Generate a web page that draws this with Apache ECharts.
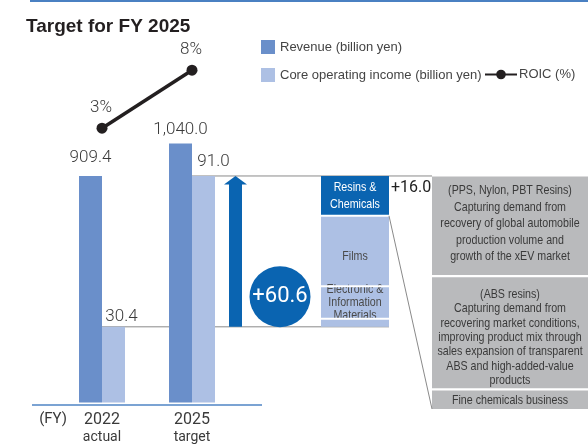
<!DOCTYPE html>
<html>
<head>
<meta charset="utf-8">
<script src="https://cdn.jsdelivr.net/npm/echarts@6/dist/echarts.min.js"></script>
<style>
  html, body { margin: 0; padding: 0; background: #fff; }
  #chart { width: 588px; height: 444px; }
</style>
</head>
<body>
<div id="chart"></div>
<script>
// Fiscal years and their plan status
const categories = ['2022', '2025'];
const categoryNotes = ['actual', 'target'];

// Revenue and core operating income (billion yen), ROIC (%)
const revenue = [909.4, 1040.0];
const coreIncome = [30.4, 91.0];
const roic = [3, 8];

// Breakdown of the core operating income increase (billion yen), top to bottom
const segmentNames = ['Resins &\nChemicals', 'Films', 'Electronic &\nInformation\nMaterials', ''];
const segmentGains = [16.0, 28.3, 13.1, 3.2];

// Notes on the Resins & Chemicals segment
const resinNotes = [
  '(PPS, Nylon, PBT Resins)\nCapturing demand from\nrecovery of global automobile\nproduction volume and\ngrowth of the xEV market',
  '(ABS resins)\nCapturing demand from\nrecovering market conditions,\nimproving product mix through\nsales expansion of transparent\nABS and high-added-value\nproducts',
  'Fine chemicals business'
];

const SANS = "'Liberation Sans', Arial, sans-serif";
const NUM = "Roboto, 'Liberation Sans', sans-serif";
const NARROW_SCALE = 0.82;   // condensed look for the annotation text
const REV_COLOR = '#6a8fca';
const CORE_COLOR = '#adc0e4';
const DEEP_BLUE = '#0a64b1';
const TEXT = '#3a3a3a';

const fmt1 = v => v.toLocaleString('en-US', { minimumFractionDigits: 1, maximumFractionDigits: 1 });

// per-label placement tweaks
const revLabelDist = [10, 5];
const coreLabelDist = [2, 6];
const coreLabelShift = [8, 10];
const segmentLabelShift = [0, 5, 0, 0];
const segmentLineHeight = [17, 13, 13, 13];

const chart = echarts.init(document.getElementById('chart'), null, { renderer: 'canvas' });

function narrowText(x, y, text, extra) {
  return {
    type: 'text', x: x, y: y, scaleX: NARROW_SCALE,
    style: Object.assign({ text: text, x: 0, y: 0, fontFamily: SANS, fontSize: 13, fill: TEXT,
      align: 'center', verticalAlign: 'middle' }, extra || {})
  };
}

function renderBreakdown(params, api) {
  const cx = api.coord([1, 0])[0];
  const cxPrev = api.coord([0, 0])[0];
  const yOf = v => api.coord([1, v])[1];
  const base = coreIncome[0];
  const top = coreIncome[1];
  const delta = top - base;
  const yTop = yOf(top);
  const yBase = yOf(base);
  const boxL = cx + 129, boxR = cx + 197;
  const panelL = cx + 240;
  const children = [];

  // reference lines at the two core income levels
  children.push({ type: 'line', shape: { x1: cx, y1: yTop, x2: panelL, y2: yTop },
    style: { stroke: '#8a8a8a', lineWidth: 1 } });
  children.push({ type: 'line', shape: { x1: cxPrev, y1: yBase, x2: boxR, y2: yBase },
    style: { stroke: '#8a8a8a', lineWidth: 1 } });

  // upward arrow spanning the increase
  const ax = cx + 43.5;
  children.push({ type: 'rect', shape: { x: ax - 6.5, y: yTop + 8, width: 13, height: yBase - yTop - 8 },
    style: { fill: DEEP_BLUE } });
  children.push({ type: 'polygon', shape: { points: [[ax - 11.5, yTop + 8.5], [ax + 11.5, yTop + 8.5], [ax, yTop]] },
    style: { fill: DEEP_BLUE } });

  // total increase badge
  const badgeY = yOf(base + delta * 0.2);
  children.push({ type: 'circle', shape: { cx: cx + 88, cy: badgeY, r: 30.5 }, style: { fill: DEEP_BLUE } });
  children.push({ type: 'text', x: cx + 88, y: badgeY,
    style: { text: '+' + fmt1(delta), fill: '#fff', fontSize: 22, fontFamily: NUM,
      align: 'center', verticalAlign: 'middle' } });

  // stacked breakdown box: blocks, then names, then white separators
  const blocks = [], names = [], seps = [];
  let acc = top;
  segmentGains.forEach((g, i) => {
    const y0 = yOf(acc), y1 = yOf(acc - g);
    blocks.push({ type: 'rect', shape: { x: boxL, y: y0, width: boxR - boxL, height: y1 - y0 },
      style: { fill: i === 0 ? DEEP_BLUE : CORE_COLOR } });
    if (i > 0) {
      seps.push({ type: 'line', shape: { x1: boxL, y1: y0, x2: boxR, y2: y0 },
        style: { stroke: '#fff', lineWidth: 2 } });
    }
    if (segmentNames[i]) {
      names.push(narrowText((boxL + boxR) / 2, (y0 + y1) / 2 + segmentLabelShift[i], segmentNames[i], {
        fill: i === 0 ? '#fff' : '#4a4a4a', fontSize: 13, lineHeight: segmentLineHeight[i]
      }));
    }
    acc -= g;
  });
  children.push(...blocks, ...names, ...seps);

  // gain of the first segment
  children.push({ type: 'text', x: boxR + 2, y: yTop + 12,
    style: { text: '+' + fmt1(segmentGains[0]), fill: '#222', fontSize: 16, fontFamily: NUM,
      align: 'left', verticalAlign: 'middle' } });

  // connector from the first segment to the notes
  children.push({ type: 'line', shape: { x1: boxR, y1: yOf(top - segmentGains[0]), x2: panelL, y2: 409 },
    style: { stroke: '#8a8a8a', lineWidth: 1 } });

  return { type: 'group', children };
}

const option = {
  animation: false,
  backgroundColor: '#fff',
  title: {
    text: 'Target for FY 2025',
    left: 26, top: 17, padding: 0,
    textStyle: { fontFamily: SANS, fontSize: 19, fontWeight: 'bold', color: '#231f20' }
  },
  legend: [
    {
      data: ['Revenue (billion yen)', 'Core operating income (billion yen)'],
      orient: 'vertical', left: 261, top: 40, padding: 0,
      itemWidth: 14, itemHeight: 14, itemGap: 14,
      icon: 'rect',
      textStyle: { fontFamily: SANS, fontSize: 13, color: '#444' }
    },
    {
      data: ['ROIC (%)'],
      left: 484, top: 68, padding: 0,
      itemWidth: 32, itemHeight: 12,
      textStyle: { fontFamily: SANS, fontSize: 13, color: '#444', padding: [0, 0, 0, -3] }
    }
  ],
  grid: [
    { left: 57, width: 180, top: 54, bottom: 39 },
    { left: 57, width: 180, top: 47, height: 116 }
  ],
  xAxis: [
    {
      type: 'category', gridIndex: 0, data: categories,
      axisLine: { show: false }, axisTick: { show: false },
      name: '(FY)', nameLocation: 'start', nameGap: -10,
      nameTextStyle: { fontFamily: NUM, fontSize: 15, color: TEXT, align: 'right',
        verticalAlign: 'top', padding: [9, 0, 0, 0] },
      axisLabel: {
        margin: 9, interval: 0,
        formatter: (v, i) => '{y|' + v + '}\n{n|' + categoryNotes[i] + '}',
        rich: {
          y: { fontFamily: NUM, fontSize: 16, color: TEXT, lineHeight: 17 },
          n: { fontFamily: NUM, fontSize: 14, color: TEXT, lineHeight: 17 }
        }
      }
    },
    { type: 'category', gridIndex: 1, data: categories, show: false }
  ],
  yAxis: [
    { type: 'value', gridIndex: 0, min: 0, max: 1400, show: false },
    { type: 'value', gridIndex: 0, min: 0, max: 140, show: false },
    { type: 'value', gridIndex: 1, min: 0, max: 10, show: false }
  ],
  graphic: {
    elements: [
      { type: 'line', shape: { x1: 30, y1: 1, x2: 588, y2: 1 }, style: { stroke: '#4a80c2', lineWidth: 2 } },
      { type: 'line', shape: { x1: 32, y1: 405, x2: 262, y2: 405 }, style: { stroke: '#4f84c4', lineWidth: 1.5 }, z: 10 },
      { type: 'rect', shape: { x: 432, y: 176.5, width: 156, height: 98.5 }, style: { fill: '#b9babc' } },
      { type: 'rect', shape: { x: 432, y: 277.3, width: 156, height: 111 }, style: { fill: '#b9babc' } },
      { type: 'rect', shape: { x: 432, y: 390.6, width: 156, height: 18.4 }, style: { fill: '#b9babc' } },
      narrowText(510, 182.5, resinNotes[0], { verticalAlign: 'top', lineHeight: 16.5 }),
      narrowText(510, 287, resinNotes[1], { verticalAlign: 'top', lineHeight: 14.4 }),
      narrowText(510, 400, resinNotes[2], {})
    ]
  },
  series: [
    {
      name: 'Revenue (billion yen)', type: 'bar',
      xAxisIndex: 0, yAxisIndex: 0,
      barWidth: 23, barGap: '0%', z: 3,
      itemStyle: { color: REV_COLOR },
      data: revenue.map((v, i) => ({ value: v, label: { distance: revLabelDist[i] } })),
      label: { show: true, position: 'top', formatter: p => fmt1(p.value),
        fontFamily: NUM, fontSize: 17, fontWeight: 300, color: TEXT }
    },
    {
      name: 'Core operating income (billion yen)', type: 'bar',
      xAxisIndex: 0, yAxisIndex: 1,
      barWidth: 23, barGap: '0%', z: 3,
      itemStyle: { color: CORE_COLOR },
      data: coreIncome.map((v, i) => ({ value: v, label: { distance: coreLabelDist[i], offset: [coreLabelShift[i], 0] } })),
      label: { show: true, position: 'top', formatter: p => fmt1(p.value),
        fontFamily: NUM, fontSize: 17, fontWeight: 300, color: TEXT }
    },
    {
      name: 'ROIC (%)', type: 'line',
      xAxisIndex: 1, yAxisIndex: 2,
      data: roic,
      symbol: 'circle', symbolSize: 11,
      lineStyle: { color: '#231f20', width: 3.5 },
      itemStyle: { color: '#231f20' },
      label: { show: true, position: 'top', distance: 6, offset: [-1, 0], formatter: p => p.value + '%',
        fontFamily: NUM, fontSize: 17, fontWeight: 300, color: TEXT }
    },
    {
      name: 'breakdown', type: 'custom',
      xAxisIndex: 0, yAxisIndex: 1,
      clip: false, z: 2, silent: true,
      data: [[1, coreIncome[1]]],
      renderItem: renderBreakdown
    }
  ]
};

chart.setOption(option);
</script>
</body>
</html>
